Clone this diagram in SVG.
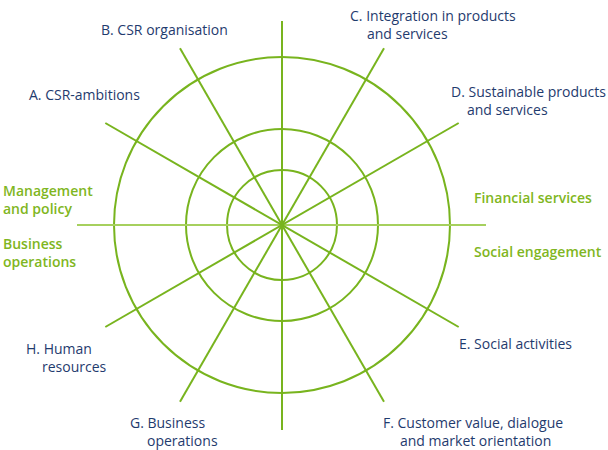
<svg xmlns="http://www.w3.org/2000/svg" width="608" height="450" viewBox="0 0 608 450">
  <style>
    .ring { fill: none; stroke: #78b41e; stroke-width: 2; }
    .spoke { stroke: #78b41e; stroke-width: 2; }
    .axis { stroke: #a6d05e; stroke-width: 2; }
    .lbl { font-family: "Open Sans", "Noto Sans", "Liberation Sans", sans-serif; font-size: 14px; fill: #1f3b6e; }
    .dim { font-family: "Open Sans", "Noto Sans", "Liberation Sans", sans-serif; font-size: 14px; font-weight: 600; fill: #7fb622; }
  </style>
  <rect width="608" height="450" fill="#ffffff"/>

  <!-- concentric rings -->
  <g id="rings">
    <circle class="ring" cx="282" cy="225" r="168"/>
    <circle class="ring" cx="282" cy="225" r="96"/>
    <circle class="ring" cx="282" cy="225" r="55"/>
  </g>

  <!-- spokes through the centre -->
  <g id="connectors">
    <line class="axis" x1="77" y1="225" x2="486" y2="225"/>
    <line class="spoke" x1="282" y1="21" x2="282" y2="430"/>
    <line class="spoke" x1="105.3" y1="123" x2="458.7" y2="327"/>
    <line class="spoke" x1="180" y1="48.3" x2="384" y2="401.7"/>
    <line class="spoke" x1="384" y1="48.3" x2="180" y2="401.7"/>
    <line class="spoke" x1="458.7" y1="123" x2="105.3" y2="327"/>
  </g>

  <!-- axis labels -->
  <g id="node-a"><text class="lbl" x="29" y="100">A. CSR-ambitions</text></g>
  <g id="node-b"><text class="lbl" x="101" y="35">B. CSR organisation</text></g>
  <g id="node-c">
    <text class="lbl" x="350" y="21">C. Integration in products</text>
    <text class="lbl" x="367" y="39">and services</text>
  </g>
  <g id="node-d">
    <text class="lbl" x="451" y="97">D. Sustainable products</text>
    <text class="lbl" x="467" y="115">and services</text>
  </g>
  <g id="node-e"><text class="lbl" x="459" y="349">E. Social activities</text></g>
  <g id="node-f">
    <text class="lbl" x="383" y="428">F. Customer value, dialogue</text>
    <text class="lbl" x="400" y="446">and market orientation</text>
  </g>
  <g id="node-g">
    <text class="lbl" x="130" y="428">G. Business</text>
    <text class="lbl" x="147" y="446">operations</text>
  </g>
  <g id="node-h">
    <text class="lbl" x="26" y="354">H. Human</text>
    <text class="lbl" x="42" y="372">resources</text>
  </g>

  <!-- dimension labels -->
  <g id="dim-management">
    <text class="dim" x="3" y="196">Management</text>
    <text class="dim" x="3" y="214">and policy</text>
  </g>
  <g id="dim-business">
    <text class="dim" x="3" y="249">Business</text>
    <text class="dim" x="3" y="267">operations</text>
  </g>
  <g id="dim-financial"><text class="dim" x="474" y="203">Financial services</text></g>
  <g id="dim-social"><text class="dim" x="474" y="257">Social engagement</text></g>
</svg>
